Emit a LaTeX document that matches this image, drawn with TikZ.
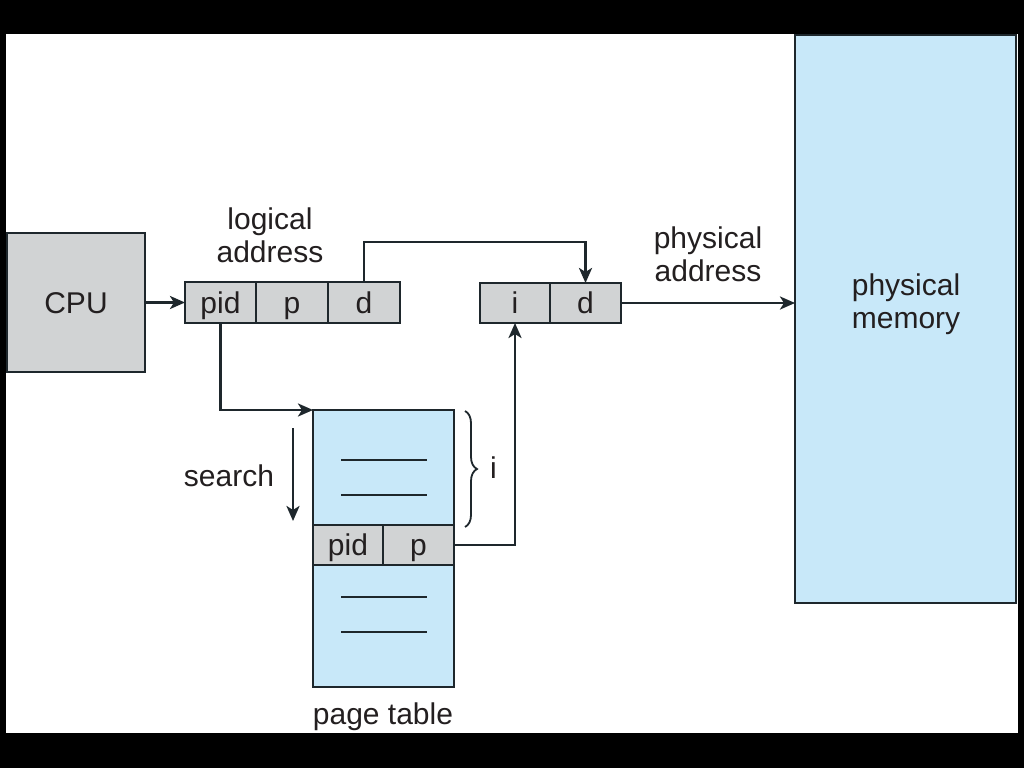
\documentclass[tikz,border=0pt]{standalone}
\usepackage{fontspec}
\setmainfont{Liberation Sans}
\usetikzlibrary{arrows.meta,decorations.pathreplacing}
\definecolor{boxgray}{HTML}{D1D3D4}
\definecolor{boxblue}{HTML}{C8E8F9}
\definecolor{ink}{HTML}{1E272C}
\definecolor{txt}{HTML}{231F20}
\begin{document}
\begin{tikzpicture}[x=1pt,y=-1pt,
  every node/.style={font=\fontsize{30}{33}\selectfont, text=txt},
  cell/.style={draw=ink, line width=2.4pt, fill=boxgray, inner sep=0pt, outer sep=0pt, text height=21pt, text depth=0pt},
  bluebox/.style={draw=ink, line width=2.4pt, fill=boxblue, inner sep=0pt, outer sep=0pt},
  conn/.style={draw=ink, line width=2.8pt},
  arr/.style={conn, -{Stealth[length=15pt,width=13pt,inset=4pt]}},
  lbl/.style={align=center, inner sep=0pt}
]
\useasboundingbox (0,0) rectangle (1024,768);
\fill[black] (0,0) rectangle (1024,768);
\fill[white] (6,34) rectangle (1018,733);

% physical memory
\node[bluebox, minimum width=221pt, minimum height=568pt] (mem) at (905.5,319) {};
\node[lbl] (memlbl) at (906,304) {physical\\memory};

% CPU
\node[cell, minimum width=138pt, minimum height=139pt] (cpu) at (76,302.5) {CPU};

% logical address
\node[cell, minimum width=71pt, minimum height=41pt] (pid) at (220.5,302.5) {pid};
\node[cell, minimum width=72pt, minimum height=41pt] (p) at (292,302.5) {p};
\node[cell, minimum width=72pt, minimum height=41pt] (d) at (364,302.5) {d};
\node[lbl] (lalbl) at (270,235) {logical\\address};

% physical address
\node[cell, minimum width=70pt, minimum height=40pt] (pi) at (515,303) {i};
\node[cell, minimum width=71pt, minimum height=40pt] (pd) at (585.5,303) {d};
\node[lbl] (palbl) at (708,254) {physical\\address};

% page table
\node[bluebox, minimum width=141pt, minimum height=277pt] (pt) at (383.5,548.5) {};
\node[cell, minimum width=70pt, minimum height=40pt] (tpid) at (348,545) {pid};
\node[cell, minimum width=71pt, minimum height=40pt] (tp) at (418.5,545) {p};
\draw[ink, line width=2.4pt] (341,460) -- (427,460);
\draw[ink, line width=2.4pt] (341,495) -- (427,495);
\draw[ink, line width=2.4pt] (341,597) -- (427,597);
\draw[ink, line width=2.4pt] (341,632) -- (427,632);
\node[lbl] (ptlbl) at (383,717) {page table};

% search
\coordinate (s1) at (293,428);
\coordinate (s2) at (293,521);
\draw[arr] (s1) -- (s2);
\node[lbl] (search) at (229,476) {search};

% brace
\coordinate (b1) at (465,411);
\coordinate (b2) at (465,527);
\draw[ink, line width=1.8pt, decorate, decoration={brace, amplitude=12pt}] (b1) -- (b2);
\node[lbl, anchor=west] (ilbl) at (490,468) {i};

% connectors
\draw[arr] (cpu.east) -- (pid.west);
\draw[arr] (d.north) -- ++(0,-40) -| (pd.north);
\draw[arr] (pd.east) -- (pd.east -| mem.west);
\draw[arr] (pid.south) |- (pt.north west);
\draw[arr] (tp.east) -| (pi.south);
\end{tikzpicture}
\end{document}
